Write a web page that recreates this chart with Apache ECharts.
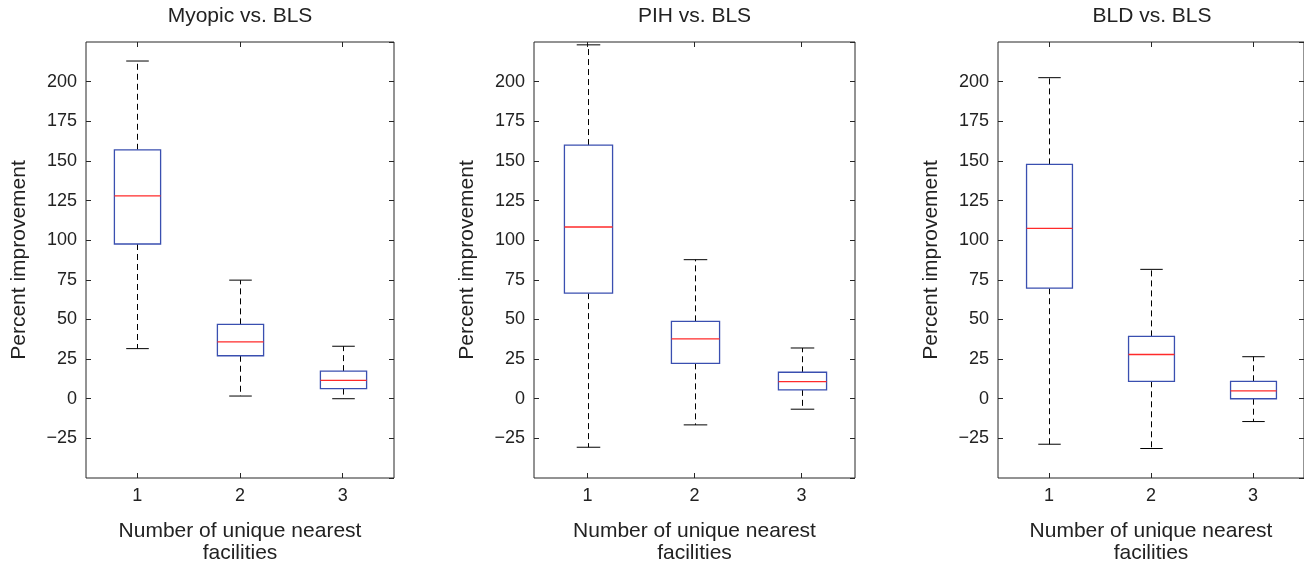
<!DOCTYPE html>
<html>
<head>
<meta charset="utf-8">
<script src="https://cdn.jsdelivr.net/npm/echarts@6/dist/echarts.min.js"></script>
<style>
html,body{margin:0;padding:0;background:#fff;}
#chart{width:1304px;height:569px;}
</style>
</head>
<body>
<div id="chart"></div>
<script>
// ---- data ----
const categories = ['1', '2', '3'];
const panelTitles = ['Myopic vs. BLS', 'PIH vs. BLS', 'BLD vs. BLS'];
// each row: [lower whisker, Q1, median, Q3, upper whisker]
const myopicBoxes = [
  [31.6, 97.6, 128.0, 157.0, 213.0],
  [1.7, 27.1, 35.8, 46.9, 74.8],
  [0.0, 6.4, 11.6, 17.4, 33.1]
];
const pihBoxes = [
  [-30.6, 66.6, 108.3, 160.0, 223.2],
  [-16.5, 22.3, 37.8, 48.8, 87.7],
  [-6.6, 5.6, 10.8, 16.7, 32.0]
];
const bldBoxes = [
  [-28.7, 69.7, 107.5, 147.8, 202.5],
  [-31.4, 11.0, 27.9, 39.3, 81.6],
  [-14.4, 0.0, 5.0, 11.0, 26.5]
];
const yTicks = { min: -50, max: 225, interval: 25 };
const yLabel = 'Percent improvement';
const xLabel = 'Number of unique nearest\nfacilities';

// ---- layout ----
const FONT = '"Liberation Sans", Arial, Helvetica, sans-serif';
const FRAME = '#262626';
const BLUE = '#3a4fb0';
const RED = '#ff2a2a';
const grids = [
  { left: 86, top: 42, width: 308, height: 443 },
  { left: 534, top: 42, width: 321, height: 443 },
  { left: 998, top: 42, width: 308, height: 443 }
];
const allBoxes = [myopicBoxes, pihBoxes, bldBoxes];

function renderItem(params, api) {
  const xi = api.value(0);
  const lo = api.coord([xi, api.value(1)]);
  const q1 = api.coord([xi, api.value(2)]);
  const md = api.coord([xi, api.value(3)]);
  const q3 = api.coord([xi, api.value(4)]);
  const hi = api.coord([xi, api.value(5)]);
  const band = api.size([1, 0])[0];
  const bw = band * 0.45, cw = band * 0.22;
  const cx = Math.round(lo[0]) + 0.5;
  const dash = { stroke: '#000', lineWidth: 1, lineDash: [6, 4] };
  const solid = { stroke: '#000', lineWidth: 1 };
  return {
    type: 'group',
    children: [
      { type: 'line', shape: { x1: cx, y1: q3[1], x2: cx, y2: hi[1] }, style: dash },
      { type: 'line', shape: { x1: cx, y1: q1[1], x2: cx, y2: lo[1] }, style: dash },
      { type: 'line', shape: { x1: cx - cw / 2, y1: hi[1], x2: cx + cw / 2, y2: hi[1] }, style: solid },
      { type: 'line', shape: { x1: cx - cw / 2, y1: lo[1], x2: cx + cw / 2, y2: lo[1] }, style: solid },
      { type: 'rect', shape: { x: cx - bw / 2, y: q3[1], width: bw, height: q1[1] - q3[1] },
        style: { fill: '#fff', stroke: BLUE, lineWidth: 1.3 } },
      { type: 'line', shape: { x1: cx - bw / 2, y1: md[1], x2: cx + bw / 2, y2: md[1] },
        style: { stroke: RED, lineWidth: 1.3 } }
    ]
  };
}

const option = {
  animation: false,
  backgroundColor: '#fff',
  textStyle: { fontFamily: FONT },
  title: grids.map((g, i) => ({
    text: panelTitles[i],
    left: g.left + g.width / 2,
    top: 6,
    textAlign: 'center',
    padding: 0,
    textStyle: { fontFamily: FONT, fontSize: 21, fontWeight: 'normal', color: '#222' }
  })),
  grid: grids.map(g => Object.assign({ show: true, borderColor: FRAME, borderWidth: 1, backgroundColor: 'transparent' }, g)),
  xAxis: [],
  yAxis: [],
  series: []
};

grids.forEach((g, i) => {
  option.xAxis.push({
    type: 'category', gridIndex: i, data: categories, boundaryGap: true, position: 'bottom',
    axisLine: { show: false, onZero: false },
    axisTick: { show: true, inside: true, alignWithLabel: true, length: 5, lineStyle: { color: FRAME } },
    axisLabel: { margin: 9, fontFamily: FONT, fontSize: 18, color: '#222' },
    splitLine: { show: false },
    name: xLabel, nameLocation: 'middle', nameGap: 42,
    nameTextStyle: { fontFamily: FONT, fontSize: 21, color: '#222', lineHeight: 22 }
  });
  option.xAxis.push({
    type: 'category', gridIndex: i, data: categories, boundaryGap: true, position: 'top',
    axisLine: { show: false, onZero: false },
    axisTick: { show: true, inside: true, alignWithLabel: true, length: 5, lineStyle: { color: FRAME } },
    axisLabel: { show: false }, splitLine: { show: false }
  });
  option.yAxis.push({
    type: 'value', gridIndex: i, min: yTicks.min, max: yTicks.max, interval: yTicks.interval, position: 'left',
    axisLine: { show: false, onZero: false },
    axisTick: { show: true, inside: true, length: 5, lineStyle: { color: FRAME } },
    axisLabel: { margin: 9, fontFamily: FONT, fontSize: 18, color: '#222', showMinLabel: false, showMaxLabel: false,
      formatter: v => (v < 0 ? '\u2212' + Math.abs(v) : String(v)) },
    splitLine: { show: false },
    name: yLabel, nameLocation: 'middle', nameGap: 56, nameRotate: 90,
    nameTextStyle: { fontFamily: FONT, fontSize: 21, color: '#222' }
  });
  option.yAxis.push({
    type: 'value', gridIndex: i, min: yTicks.min, max: yTicks.max, interval: yTicks.interval, position: 'right',
    axisLine: { show: false, onZero: false },
    axisTick: { show: true, inside: true, length: 5, lineStyle: { color: FRAME } },
    axisLabel: { show: false }, splitLine: { show: false }
  });
  option.series.push({
    type: 'custom',
    xAxisIndex: i * 2, yAxisIndex: i * 2,
    renderItem: renderItem,
    encode: { x: 0, y: [1, 2, 3, 4, 5] },
    data: allBoxes[i].map((b, k) => [k].concat(b)),
    clip: false
  });
});

const chart = echarts.init(document.getElementById('chart'), null, { renderer: 'canvas' });
chart.setOption(option);
</script>
</body>
</html>
